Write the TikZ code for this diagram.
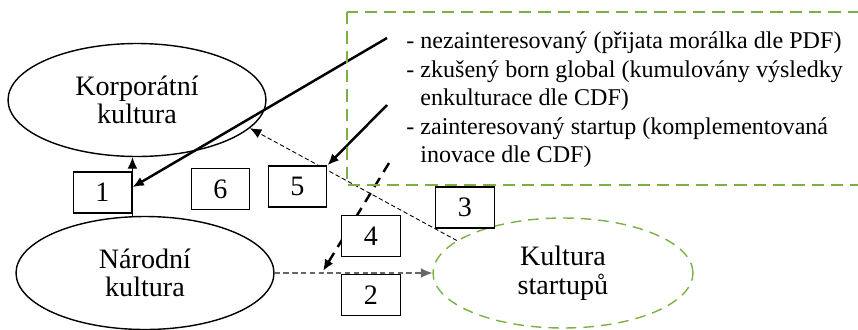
\documentclass[tikz,border=0pt]{standalone}
\usepackage{fontspec}
\setmainfont{Liberation Serif}
\usetikzlibrary{shapes.geometric}
\usetikzlibrary{arrows.meta}
\usetikzlibrary{backgrounds}
\definecolor{leafgreen}{RGB}{124,176,66}
\begin{document}
\begin{tikzpicture}[x=0.02cm,y=-0.02cm,
  every node/.style={font=\fontsize{13.7}{16.2}\selectfont},
  >={Latex[length=6.5pt,width=5.5pt]},
  culture/.style={draw,ellipse,line width=0.8pt,inner sep=0pt,minimum width=5.16cm,minimum height=2.26cm,align=center,font=\fontsize{16}{16.2}\selectfont},
  numbox/.style={draw,fill=white,line width=0.8pt,minimum width=1.17cm,minimum height=0.82cm,inner sep=0pt,font=\fontsize{16}{16}\selectfont}]
\clip (0,0) rectangle (858,329);
  \node[culture] (korp) at (137,100) {Korporátní\\kultura};
  \node[culture] (narod) at (145,273) {Národní\\kultura};
  \node[culture,draw=leafgreen,dashed,dash pattern=on 6pt off 4pt,minimum width=5.2cm,minimum height=2.2cm] (startup) at (563,273) {Kultura\\startupů};

\draw[leafgreen,line width=0.8pt,dash pattern=on 7pt off 4pt] (347,12) rectangle (875,185);
\node[anchor=west,align=left,inner sep=0pt] (info) at (406,100) {- nezainteresovaný (přijata morálka dle PDF)\\- zkušený born global (kumulovány výsledky\\\phantom{- }enkulturace dle CDF)\\- zainteresovaný startup (komplementovaná\\\phantom{- }inovace dle CDF)};

\node[numbox] (b1) at (102.5,192.5) {1};
\node[numbox] (b6) at (220.5,189) {6};
\node[numbox] (b5) at (297.5,186.5) {5};
\node[numbox] (b4) at (371,236) {4};
\node[numbox] (b2) at (371,295) {2};
\node[numbox] (b3) at (465,207.5) {3};

\coordinate (s1) at (387,38);
\coordinate (s5) at (387,105);
\coordinate (s4) at (389,163);
\coordinate (e4) at (323,271);

\begin{scope}[on background layer]
  \draw[->,line width=0.6pt] (narod.north -| b1.east)--(korp.south -| b1.east);
  \draw[->,line width=1.4pt] (s1)--(b1.10);
  \draw[->,line width=1.4pt] (s5)--(b5.north east);
  \draw[->,line width=0.5pt,dash pattern=on 2.5pt off 1.5pt] (startup.163)--(korp.-14);
  \draw[->,line width=0.6pt,gray!80!black,densely dashed] (narod.east)--(startup.west);
  \draw[->,line width=1.4pt,dash pattern=on 6pt off 4pt] (s4)--(e4);
\end{scope}
  \end{tikzpicture}
\end{document}
